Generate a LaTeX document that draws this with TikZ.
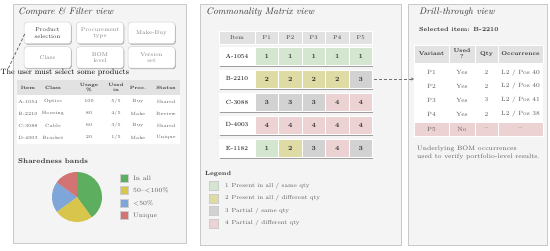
\documentclass[tikz,border=0pt]{standalone}
\usepackage{fontspec}
\usetikzlibrary{shadows,arrows.meta,calc}
\definecolor{panelbg}{HTML}{F4F4F4}
\definecolor{panelln}{HTML}{C9C9C9}
\definecolor{hdrbg}{HTML}{E2E2E2}
\definecolor{c1}{HTML}{D4E6D0}
\definecolor{c2}{HTML}{DEDCA4}
\definecolor{c3}{HTML}{D2D2D2}
\definecolor{c4}{HTML}{ECD2D2}
\definecolor{pgreen}{HTML}{5DAE5F}
\definecolor{pyellow}{HTML}{D8C64C}
\definecolor{pblue}{HTML}{7EA6D8}
\definecolor{pred}{HTML}{D27474}
\definecolor{txt}{HTML}{333333}
\definecolor{txtl}{HTML}{5A5A5A}
\tikzset{
 box/.style={anchor=north west, inner sep=0pt, outer sep=0pt},
 softshadow/.style={drop shadow={shadow xshift=0.8pt, shadow yshift=-1pt, opacity=0.3, fill=black}},
 panel/.style={box, draw=panelln, fill=panelbg, line width=0.5pt, drop shadow={shadow xshift=1pt, shadow yshift=-1.3pt, opacity=0.35, fill=black}},
 ptitle/.style={anchor=west, inner sep=0pt, font=\fontsize{9.5}{11}\selectfont\itshape, text=black!80},
 btn/.style={draw=black!18, fill=white, rounded corners=3pt, line width=0.5pt, align=center, minimum width=47pt, minimum height=21.5pt, font=\fontsize{5.6}{6.6}\selectfont, text=black!50, inner sep=0pt, softshadow},
 ttxt/.style={inner sep=0pt, font=\fontsize{4.6}{5.2}\selectfont, text=txtl},
 thdr/.style={inner sep=0pt, align=center, font=\fontsize{4.6}{5.2}\selectfont\bfseries, text=txt},
 cell/.style={box, draw=white, line width=0.4pt, minimum height=18pt, font=\fontsize{6.3}{7}\selectfont\bfseries, text=txt},
 hcell/.style={box, draw=white, fill=hdrbg, line width=0.4pt, minimum height=13pt, font=\fontsize{5.6}{6.5}\selectfont, text=txt},
 lsq/.style={draw=black!20, line width=0.3pt, minimum width=8pt, minimum height=8pt, inner sep=0pt, softshadow},
 ltxt/.style={anchor=west, inner sep=0pt, font=\fontsize{5.8}{6.8}\selectfont, text=txtl},
 dcell/.style={inner sep=0pt, font=\fontsize{6.1}{7}\selectfont, text=txtl},
 dhdr/.style={inner sep=0pt, align=center, font=\fontsize{5.6}{6}\selectfont\bfseries, text=txt},
}
\begin{document}
\begin{tikzpicture}[x=1pt,y=-1pt]
\useasboundingbox (0,0) rectangle (550,251);
% ---------- panels
\node[panel, minimum width=173pt, minimum height=239pt] (pcf) at (13,4) {};
\node[panel, minimum width=201pt, minimum height=241pt] (pcm) at (200,4) {};
\node[panel, minimum width=139pt, minimum height=241pt] (pdt) at (408,4) {};
\node[ptitle] (tcf) at (18,12) {Compare \& Filter view};
\node[ptitle] (tcm) at (206,12) {Commonality Matrix view};
\node[ptitle] (tdt) at (419,12) {Drill-through view};
% ---------- panel 1 buttons
\node[btn, text=black!85] (bps) at (47.5,33) {Product\\selection};
\node[btn] (bpt) at (100,33) {Procurement\\type};
\node[btn] (bmb) at (151.5,33) {Make-Buy};
\node[btn] (bcl) at (47.5,57.5) {Class};
\node[btn] (bbl) at (100,57.5) {BOM\\level};
\node[btn] (bvs) at (151.5,57.5) {Version\\set};
\coordinate (dend) at (8,69);
\draw[dashed, dash pattern=on 3pt off 2pt, black!60, line width=0.8pt] ([xshift=1pt,yshift=-1pt]bps.west) -- (dend);
\node[anchor=west, inner sep=0pt, font=\fontsize{7.7}{9}\selectfont, text=black] (note) at (0.5,73) {The user must select some products};
% ---------- panel 1 table
\node[box, fill=hdrbg, minimum width=163pt, minimum height=15pt] (t1h) at (17,80) {};
\node[box, fill=white, minimum width=163pt, minimum height=49pt] (t1b) at (17,95) {};
\node[thdr] (h1) at (28,87.5) {Item};
\node[thdr] (h2) at (53,87.5) {Class};
\node[thdr] (h3) at (89,87.5) {Usage\\\%};
\node[thdr] (h4) at (116,87.5) {Used\\in};
\node[thdr] (h5) at (138,87.5) {Proc.};
\node[thdr] (h6) at (166,87.5) {Status};
\foreach \i/\y/\a/\b/\c/\d/\e/\f in {1/101.5/A-1054/Optics/100/5\slash 5/Buy/Shared,
 2/113.5/B-2210/Housing/80/4\slash 5/Make/Review,
 3/125.5/C-3088/Cable/60/3\slash 5/Buy/Shared,
 4/137.5/D-4003/Bracket/20/1\slash 5/Make/Unique}{
 \node[ttxt] (r\i a) at (28,\y) {\a};
 \node[ttxt] (r\i b) at (53,\y) {\b};
 \node[ttxt] (r\i c) at (89,\y) {\c};
 \node[ttxt] (r\i d) at (116,\y) {\d};
 \node[ttxt] (r\i e) at (138,\y) {\e};
 \node[ttxt] (r\i f) at (166,\y) {\f};
}
% ---------- sharedness
\node[anchor=west, inner sep=0pt, font=\fontsize{7}{8}\selectfont\bfseries, text=txt] (shb) at (18,161.5) {Sharedness bands};
\coordinate (pc) at (77,197);
\fill[pgreen] (pc) -- ++(90:25pt) arc[start angle=90, end angle=-54, radius=25pt] -- cycle;
\fill[pyellow] (pc) -- ++(-54:25pt) arc[start angle=-54, end angle=-144, radius=25pt] -- cycle;
\fill[pblue] (pc) -- ++(-144:25pt) arc[start angle=-144, end angle=-216, radius=25pt] -- cycle;
\fill[pred] (pc) -- ++(144:25pt) arc[start angle=144, end angle=90, radius=25pt] -- cycle;
\node[lsq, fill=pgreen] (lg1) at (124,178) {};
\node[lsq, fill=pyellow] (lg2) at (124,190.5) {};
\node[lsq, fill=pblue] (lg3) at (124,203) {};
\node[lsq, fill=pred] (lg4) at (124,215.5) {};
\node[ltxt, font=\fontsize{6.3}{7}\selectfont] (lt1) at (133,178) {In all};
\node[ltxt, font=\fontsize{6.3}{7}\selectfont] (lt2) at (133,190.5) {50--<100\%};
\node[ltxt, font=\fontsize{6.3}{7}\selectfont] (lt3) at (133,203) {<50\%};
\node[ltxt, font=\fontsize{6.3}{7}\selectfont] (lt4) at (133,215.5) {Unique};
% ---------- matrix header
\node[hcell, minimum width=36pt, softshadow] (mh0) at (219,31) {Item};
\foreach \k in {1,...,5}{
 \node[hcell, minimum width=23.5pt, softshadow] (mh\k) at ({255+(\k-1)*23.5},31) {P\k};
}
% ---------- matrix rows
\foreach \r/\name/\y/\a/\b/\c/\d/\e in {1/A-1054/47/1/1/1/1/1, 2/B-2210/70/2/2/2/2/3, 3/C-3088/93/3/3/3/4/4, 4/D-4003/116/4/4/4/4/4, 5/E-1182/139.5/1/2/3/4/3}{
 \node[box, fill=white, minimum width=153.5pt, minimum height=18pt, drop shadow={shadow xshift=0.6pt, shadow yshift=-1.6pt, opacity=0.35, fill=black}] (mrow\r) at (219,\y) {};
 \node[cell, fill=white, minimum width=36pt, font=\fontsize{6}{7}\selectfont, text=black] (m\r x0) at (219,\y) {\name};
 \node[cell, fill=c\a, minimum width=23.5pt] (m\r x1) at (255,\y) {\a};
 \node[cell, fill=c\b, minimum width=23.5pt] (m\r x2) at (278.5,\y) {\b};
 \node[cell, fill=c\c, minimum width=23.5pt] (m\r x3) at (302,\y) {\c};
 \node[cell, fill=c\d, minimum width=23.5pt] (m\r x4) at (325.5,\y) {\d};
 \node[cell, fill=c\e, minimum width=23.5pt] (m\r x5) at (349,\y) {\e};
}
% ---------- matrix legend
\node[anchor=west, inner sep=0pt, font=\fontsize{6}{7}\selectfont\bfseries, text=txt] (lgd) at (205,174) {Legend};
\node[lsq, fill=c1, minimum width=9pt, minimum height=9pt] (q1) at (213.5,186) {};
\node[lsq, fill=c2, minimum width=9pt, minimum height=9pt] (q2) at (213.5,198.5) {};
\node[lsq, fill=c3, minimum width=9pt, minimum height=9pt] (q3) at (213.5,211) {};
\node[lsq, fill=c4, minimum width=9pt, minimum height=9pt] (q4) at (213.5,223.5) {};
\node[ltxt] (qt1) at (225,186) {1\enspace Present in all / same qty};
\node[ltxt] (qt2) at (225,198.5) {2\enspace Present in all / different qty};
\node[ltxt] (qt3) at (225,211) {3\enspace Partial / same qty};
\node[ltxt] (qt4) at (225,223.5) {4\enspace Partial / different qty};
% ---------- drill-through
\node[anchor=west, inner sep=0pt, font=\fontsize{5.9}{7}\selectfont\bfseries, text=txt] (sel) at (419,29) {Selected item: B-2210};
\node[box, fill=white, minimum width=129pt, minimum height=60pt] (dtb) at (414,62) {};
\node[box, fill=hdrbg, draw=white, line width=0.4pt, minimum width=35pt, minimum height=18pt] (dh1) at (414,45) {};
\node[box, fill=hdrbg, draw=white, line width=0.4pt, minimum width=26pt, minimum height=18pt] (dh2) at (449,45) {};
\node[box, fill=hdrbg, draw=white, line width=0.4pt, minimum width=23pt, minimum height=18pt] (dh3) at (475,45) {};
\node[box, fill=hdrbg, draw=white, line width=0.4pt, minimum width=45pt, minimum height=18pt] (dh4) at (498,45) {};
\node[dhdr] at (dh1.center) {Variant};
\node[dhdr] at (dh2.center) {Used\\?};
\node[dhdr] at (dh3.center) {Qty};
\node[dhdr] at (dh4.center) {Occurrence};
\node[box, fill=c4, draw=white, line width=0.4pt, minimum width=35pt, minimum height=14pt] (dp1) at (414,122) {};
\node[box, fill=c4, draw=white, line width=0.4pt, minimum width=26pt, minimum height=14pt] (dp2) at (449,122) {};
\node[box, fill=c4, draw=white, line width=0.4pt, minimum width=23pt, minimum height=14pt] (dp3) at (475,122) {};
\node[box, fill=c4, draw=white, line width=0.4pt, minimum width=45pt, minimum height=14pt] (dp4) at (498,122) {};
\foreach \i/\y/\a/\b/\c/\d in {1/72.5/P1/Yes/2/L2 \slash{} Pos 40, 2/86/P2/Yes/2/L2 \slash{} Pos 40, 3/100/P3/Yes/3/L2 \slash{} Pos 41, 4/114/P4/Yes/2/L2 \slash{} Pos 38, 5/129/P5/No/--/--}{
 \node[dcell] (d\i a) at (431.5,\y) {\a};
 \node[dcell] (d\i b) at (462,\y) {\b};
 \node[dcell] (d\i c) at (486.5,\y) {\c};
 \node[dcell] (d\i d) at (520.5,\y) {\d};
}
\node[anchor=north west, inner sep=0pt, align=left, font=\fontsize{6.3}{7.8}\selectfont, text=txtl] (und) at (417,146) {Underlying BOM occurrences\\used to verify portfolio-level results.};
% ---------- connector
\coordinate (drin) at (414,79);
\draw[black!55, line width=0.8pt, dash pattern=on 3pt off 2pt, -{Stealth[length=3pt,width=3pt]}] ([xshift=1pt]m2x5.east) -- (m2x5.east -| drin);
\end{tikzpicture}
\end{document}
